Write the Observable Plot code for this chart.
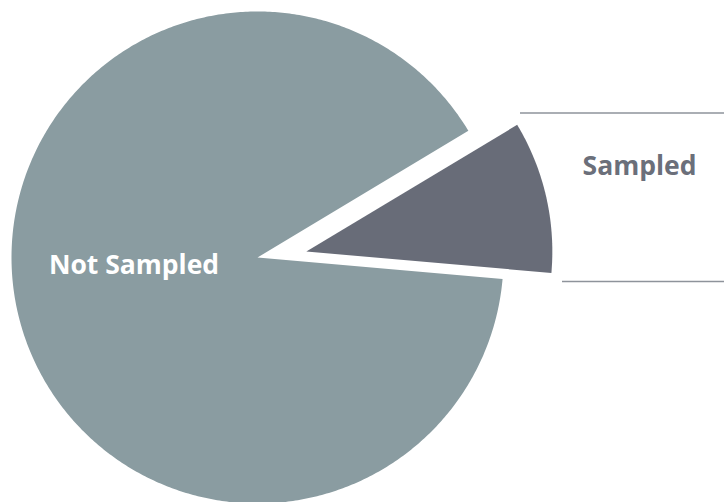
<!DOCTYPE html>
<html>
<head>
<meta charset="utf-8">
<script src="https://cdn.jsdelivr.net/npm/d3@7"></script>
<script src="https://cdn.jsdelivr.net/npm/@observablehq/plot@0.6"></script>
<style>
  html, body { margin: 0; padding: 0; background: #ffffff; }
  #chart { width: 724px; height: 502px; }
</style>
</head>
<body>
<div id="chart"></div>
<script>
// ---- data ----
const categories = ["Sampled", "Not Sampled"];
const values = [10, 90];
const colors = ["#686c78", "#8a9ca1"];

// ---- layout ----
const W = 724, H = 502;
const R = 246;            // pie radius in px
const CX = 257, CY = 257; // pie centre in px
const startDeg = 59;      // angle (clockwise from north) where the first slice starts
const explode = [0.2, 0]; // explosion as fraction of radius
const explodeDirDeg = [83, 0];

const pie = d3.pie().sort(null).value(d => d.value).startAngle(startDeg * Math.PI / 180).endAngle((startDeg + 360) * Math.PI / 180);
const arcs = pie(categories.map((c, i) => ({category: c, value: values[i]})));

const pts = [];
arcs.forEach((a, i) => {
  const dir = explodeDirDeg[i] * Math.PI / 180;
  const ox = explode[i] * Math.sin(dir), oy = -explode[i] * Math.cos(dir);
  const cat = a.data.category;
  pts.push({cat, x: ox, y: oy});
  const n = Math.max(8, Math.ceil((a.endAngle - a.startAngle) / 0.01));
  for (let k = 0; k <= n; k++) {
    const t = a.startAngle + (a.endAngle - a.startAngle) * k / n;
    pts.push({cat, x: ox + Math.sin(t), y: oy - Math.cos(t)});
  }
  pts.push({cat, x: ox, y: oy});
});

const px = v => (v - CX) / R, py = v => (v - CY) / R;

const calloutLines = [
  {x1: px(520), x2: px(724), y: py(112.5)},
  {x1: px(562), x2: px(724), y: py(281)}
];

const labels = [
  {text: "Not Sampled", x: px(133.5), y: py(265), fill: "#ffffff"},
  {text: "Sampled", x: px(639), y: py(166.5), fill: "#6b6f7a"}
];

const plot = Plot.plot({
  width: W,
  height: H,
  margin: 0,
  x: {domain: [px(0), px(W)], range: [0, W], axis: null},
  y: {domain: [py(0), py(H)], range: [0, H], axis: null},
  color: {domain: categories, range: colors},
  marks: [
    Plot.line(pts, {x: "x", y: "y", z: "cat", fill: "cat", stroke: "none", curve: "linear"}),
    Plot.ruleY(calloutLines, {y: "y", x1: "x1", x2: "x2", stroke: "#8e939b", strokeWidth: 1.5}),
    Plot.text(labels, {x: "x", y: "y", text: "text", fill: d => d.fill, fontSize: 26.5, fontWeight: "bold", fontFamily: "Open Sans", textAnchor: "middle"})
  ]
});
document.getElementById("chart").appendChild(plot);
</script>
</body>
</html>
